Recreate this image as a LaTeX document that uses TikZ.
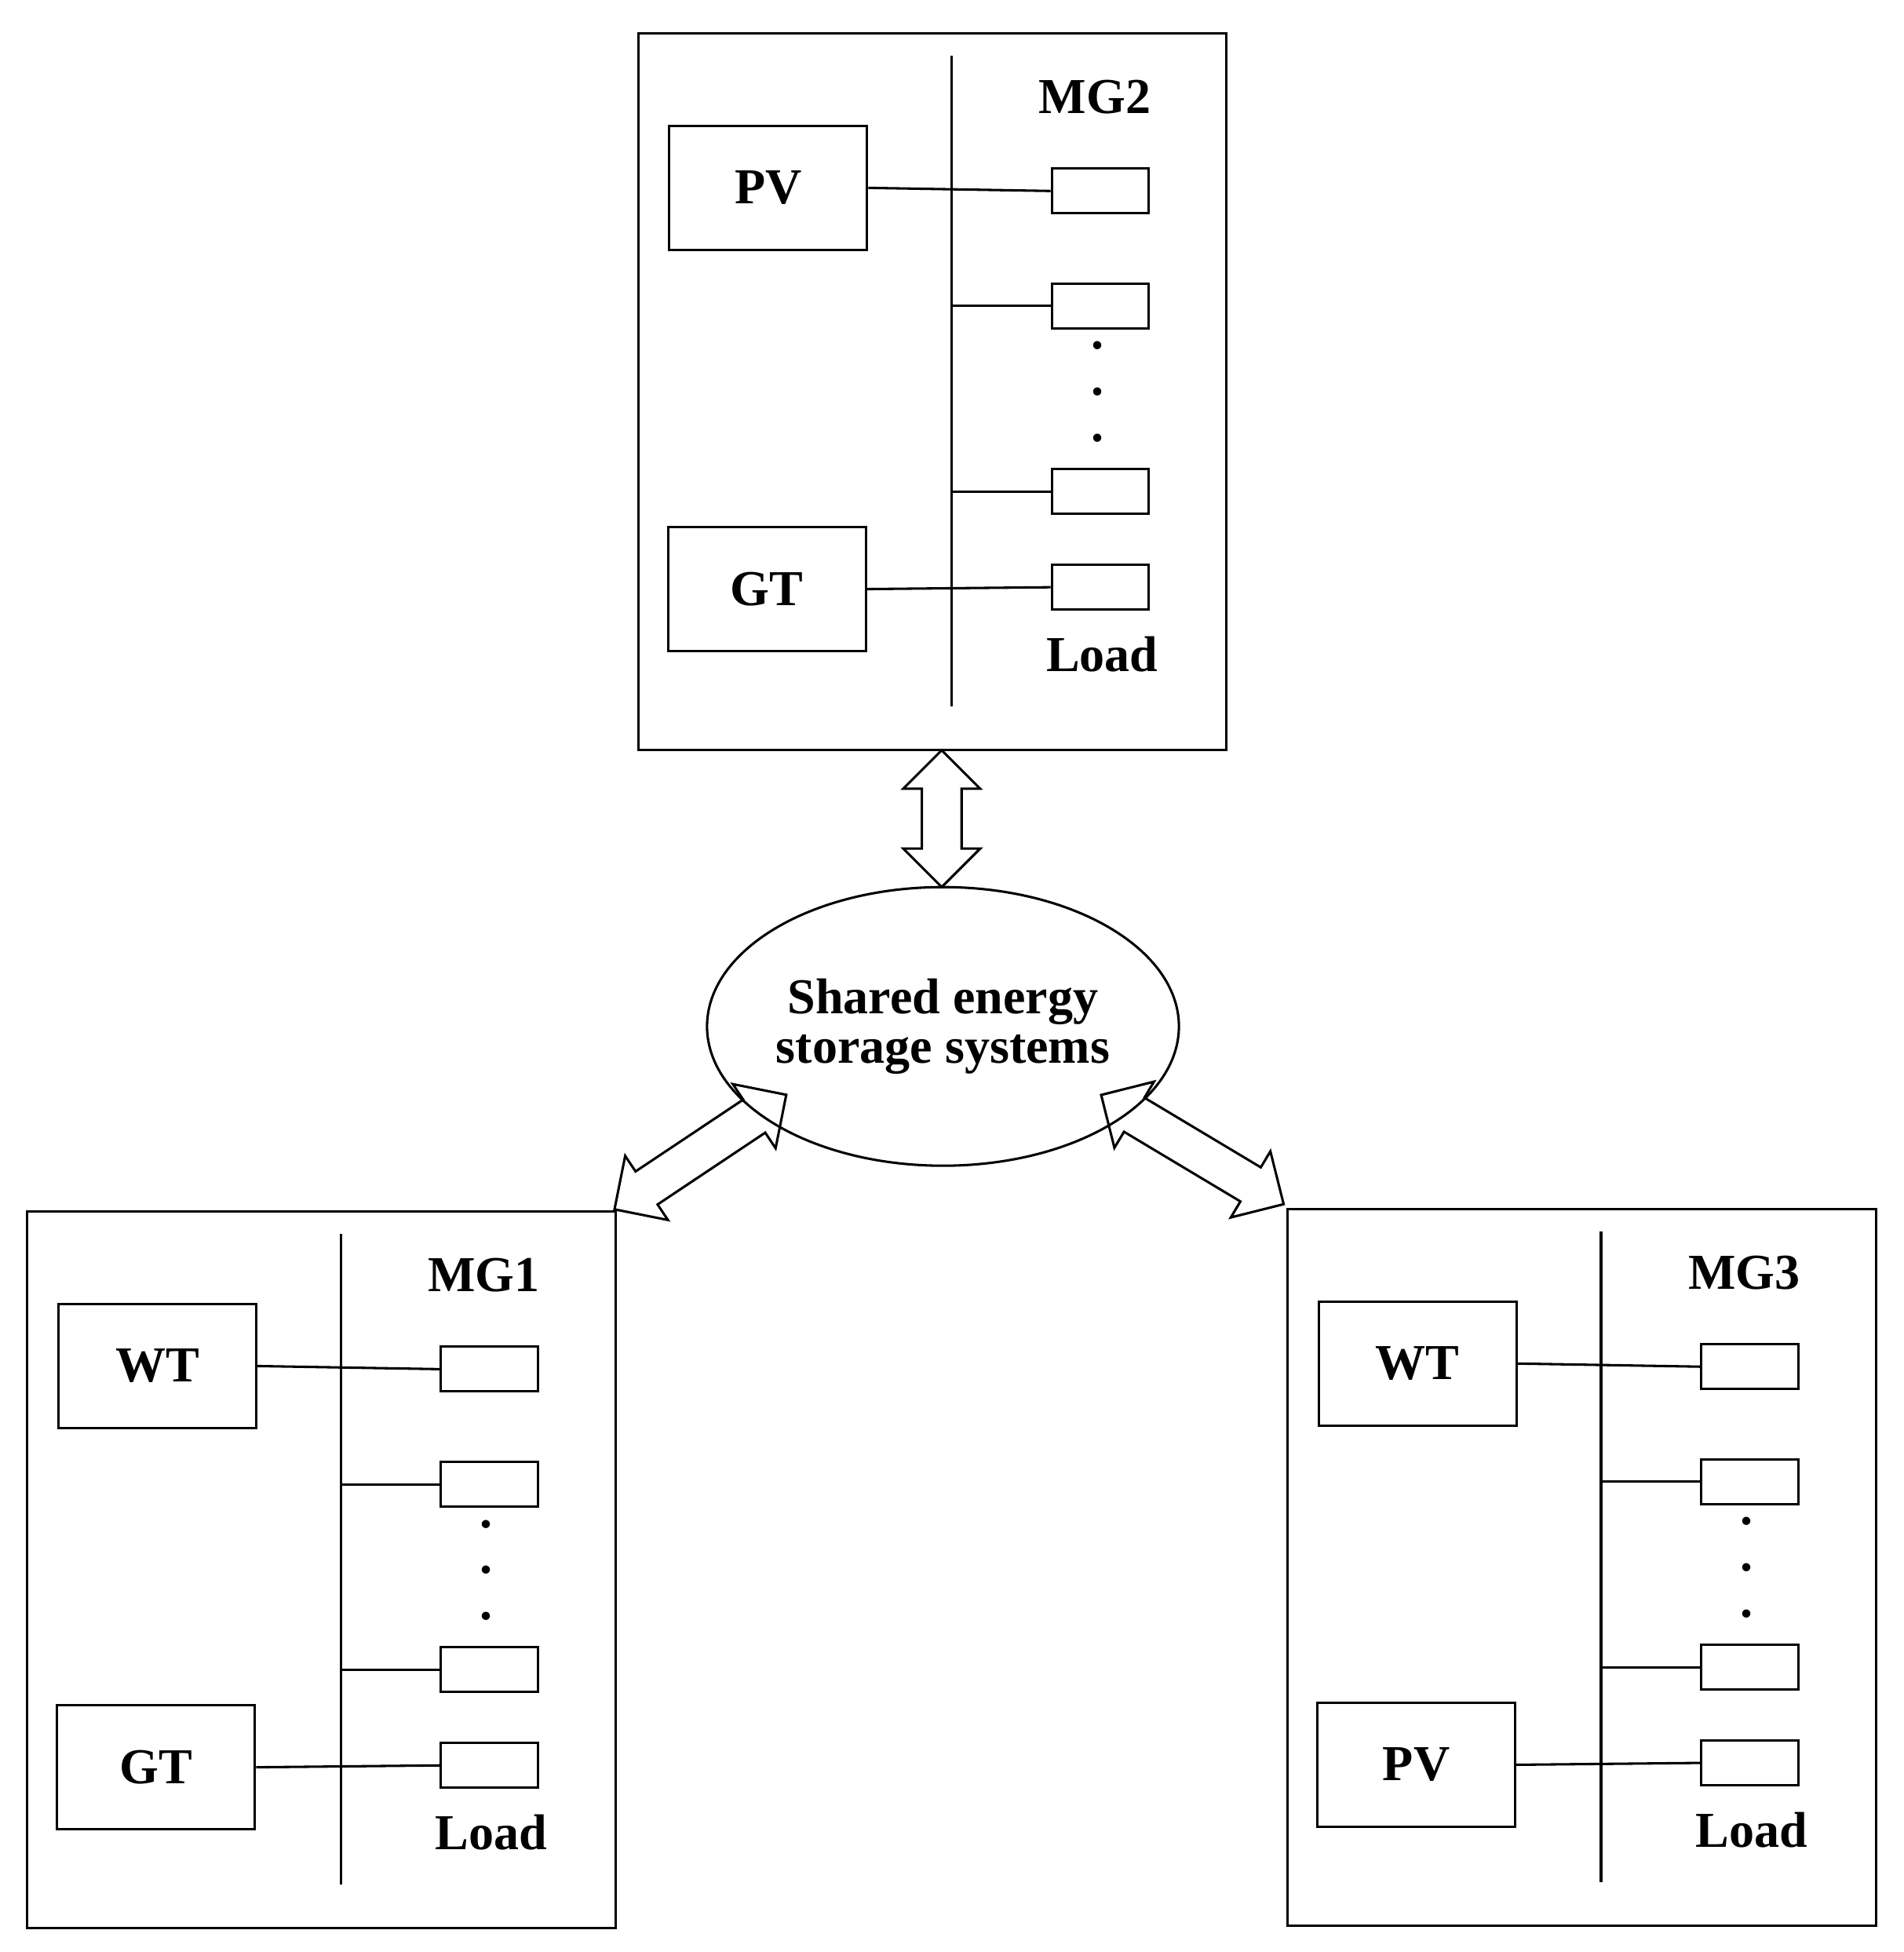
\documentclass[tikz,border=0pt]{standalone}
\usepackage{fontspec}
\setmainfont{Liberation Serif}
\usetikzlibrary{shapes.geometric,shapes.arrows}
\begin{document}
\begin{tikzpicture}[x=0.02cm,y=-0.02cm,line width=1.1pt,
  lbl/.style={font=\fontsize{23}{26}\selectfont\bfseries},
  dot/.style={font=\fontsize{23}{26}\selectfont\bfseries,inner sep=0},
  darr/.style={double arrow,draw,line width=1.1pt,inner xsep=0pt,inner ysep=0.3cm,
     double arrow head extend=0.3cm,anchor=center}]
\useasboundingbox (0,0) rectangle (1530,1569);
\newcommand{\mg}[6]{% dx dy name gen1 gen2 prefix
 \begin{scope}[shift={(#1,#2)}]
 \node[draw,minimum width=9.46cm,minimum height=11.52cm,anchor=north west,inner sep=0] (#6box) at (512,26) {};
 \coordinate (#6bt) at (765,45); \coordinate (#6bb) at (765,568);
 \draw (#6bt) -- (#6bb);
 \node[draw,lbl,minimum width=3.18cm,minimum height=2cm] (#6g1) at (617.5,151) {#4};
 \node[draw,lbl,minimum width=3.18cm,minimum height=2cm] (#6g2) at (616.5,473.5) {#5};
 \foreach \i/\y in {1/153.5,2/246,3/395,4/472}
   \node[draw,minimum width=1.56cm,minimum height=0.72cm,inner sep=0] (#6l\i) at (884.5,\y) {};
 \coordinate (#6j2) at (765,246); \coordinate (#6j3) at (765,395);
 \draw (#6g1.east) -- (#6l1.west);
 \draw (#6j2) -- (#6l2.west);
 \draw (#6j3) -- (#6l3.west);
 \draw (#6g2.east) -- (#6l4.west);
 \foreach \y/\k in {278/a,315/b,352/c} \node[dot] (#6d\k) at (882,\y) {.};
 \node[lbl] (#6name) at (880,78) {#3};
 \node[lbl] (#6load) at (886,526) {Load};
 \end{scope}}
\mg{0}{0}{MG2}{PV}{GT}{b}
\mg{-491}{947}{MG1}{WT}{GT}{a}
\mg{522}{945}{MG3}{WT}{PV}{c}
\node[draw,ellipse,minimum width=5.88cm,minimum height=4.48cm,lbl,align=center,inner sep=0,font=\fontsize{23}{50}\selectfont\bfseries] (ess) at (758,825) {Shared energy\\[-1.2em]storage systems};
\node[darr,minimum height=2.2cm,minimum width=1.2cm,rotate=90] (ar2) at (757,658) {};
\node[darr,minimum height=3.32cm,minimum width=1.2cm,rotate=33.7] (ar1) at (563,926) {};
\node[darr,minimum height=3.42cm,minimum width=1.2cm,rotate=-30.9] (ar3) at (958.5,924) {};
\end{tikzpicture}
\end{document}
